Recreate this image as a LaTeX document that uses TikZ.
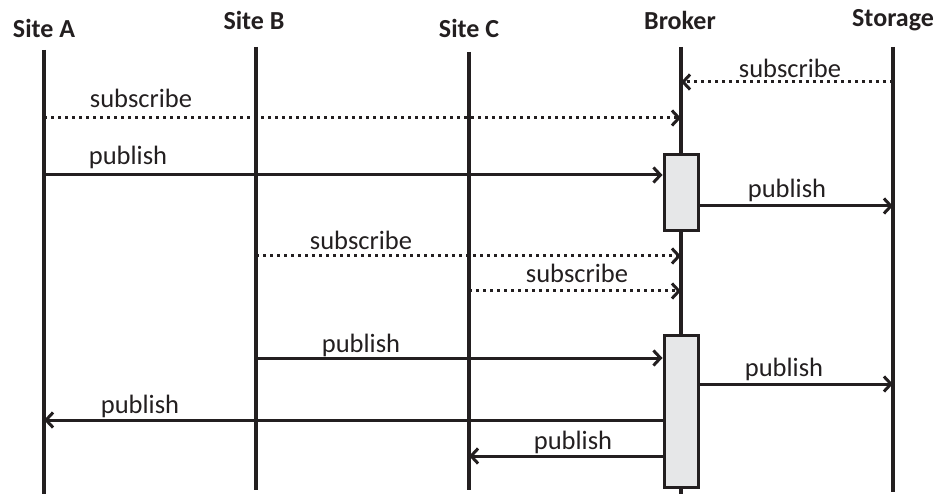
\documentclass[tikz,border=0pt]{standalone}
\usepackage{fontspec}
\setmainfont{Carlito}
\usetikzlibrary{arrows.meta}
\definecolor{ink}{HTML}{231F20}
\definecolor{actfill}{HTML}{E6E7E8}
\tikzset{
  head/.style={font=\fontsize{26}{28}\selectfont\bfseries, text=ink, inner sep=0pt},
  lbl/.style={font=\fontsize{26.5}{28}\selectfont, text=ink, inner sep=0pt},
  life/.style={draw=ink, line width=4pt},
  act/.style={draw=ink, line width=3pt, fill=actfill, minimum width=34pt, inner sep=0pt},
  msg/.style={draw=ink, line width=3pt, -{Straight Barb[length=7pt,width=15pt,line width=3pt]}},
  amsg/.style={msg, dash pattern=on 3pt off 4pt},
}
\begin{document}
\begin{tikzpicture}[x=1pt,y=-1pt]
\useasboundingbox (0,0) rectangle (937,494);
% headers
\node[head] (hA) at (44,28) {Site A};
\node[head] (hB) at (254,20) {Site B};
\node[head] (hC) at (469,28) {Site C};
\node[head] (hBr) at (680,20) {Broker};
\node[head] (hS) at (893,20) {Storage};
% lifeline ends
\coordinate (aT) at (44,50);  \coordinate (aB) at (44,494);
\coordinate (bT) at (256,47); \coordinate (bB) at (256,490);
\coordinate (cT) at (469,52); \coordinate (cB) at (469,490);
\coordinate (rT) at (681,47); \coordinate (rB) at (681,494);
\coordinate (sT) at (893,47); \coordinate (sB) at (893,492);
\draw[life] (aT) -- (aB);
\draw[life] (bT) -- (bB);
\draw[life] (cT) -- (cB);
\draw[life] (rT) -- (rB);
\draw[life] (sT) -- (sB);
% activation boxes
\node[act, minimum height=76pt] (act1) at (681,193) {};
\node[act, minimum height=152pt] (act2) at (681,411) {};
% messages
\draw[amsg] (sT |- 0,82) -- (rT |- 0,82);
\node[lbl] (l1) at (790,68) {subscribe};
\draw[amsg] (aT |- 0,118) -- (rT |- 0,118);
\node[lbl] (l2) at (141,98) {subscribe};
\draw[msg] (aT |- 0,175) -- (act1.west |- 0,175);
\node[lbl] (l3) at (128,157) {publish};
\draw[msg] (act1.east |- 0,206) -- (sT |- 0,206);
\node[lbl] (l4) at (787,190) {publish};
\draw[amsg] (bT |- 0,256) -- (rT |- 0,256);
\node[lbl] (l5) at (361,240) {subscribe};
\draw[amsg] (cT |- 0,291) -- (rT |- 0,291);
\node[lbl] (l6) at (577,273) {subscribe};
\draw[msg] (bT |- 0,358) -- (act2.west |- 0,358);
\node[lbl] (l7) at (361,345) {publish};
\draw[msg] (act2.east |- 0,384) -- (sT |- 0,384);
\node[lbl] (l8) at (784,369) {publish};
\draw[msg] (act2.west |- 0,420) -- (aT |- 0,420);
\node[lbl] (l9) at (140,406) {publish};
\draw[msg] (act2.west |- 0,456) -- (cT |- 0,456);
\node[lbl] (l10) at (573,442) {publish};
\end{tikzpicture}
\end{document}
